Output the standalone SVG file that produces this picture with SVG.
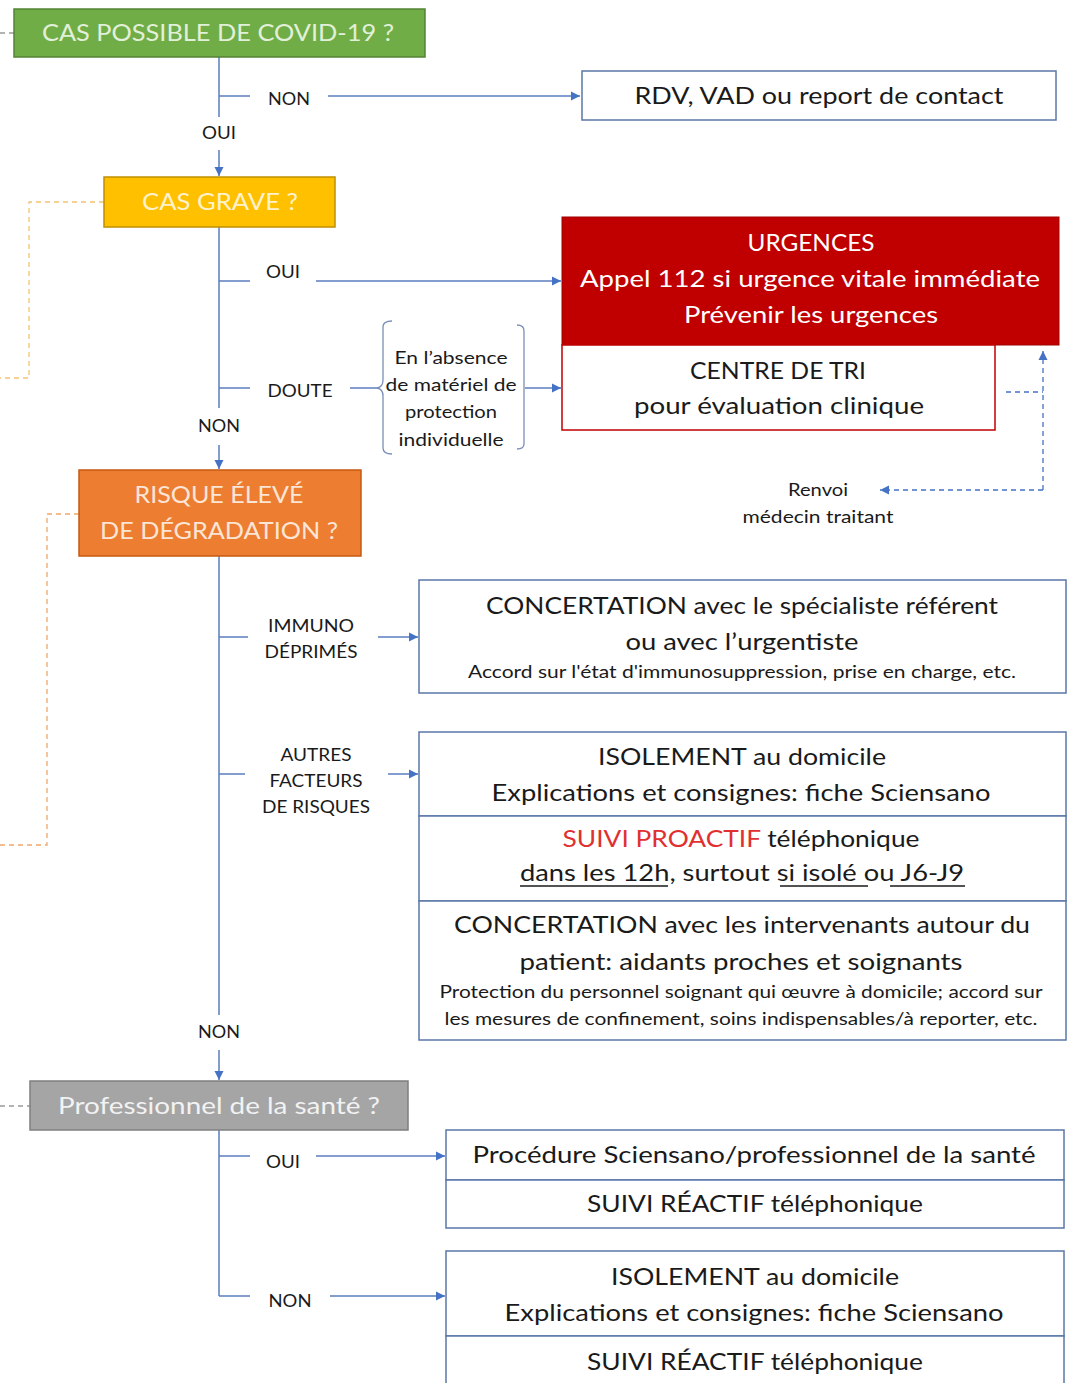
<svg xmlns="http://www.w3.org/2000/svg" width="1068" height="1383" viewBox="0 0 1068 1383">
<defs>
<marker id="arr" markerUnits="userSpaceOnUse" markerWidth="10" markerHeight="10" refX="9" refY="5" orient="auto">
<path d="M0,0.5 L9,5 L0,9.5 Z" fill="#4472c4"/>
</marker>
<style>
text{font-family:Lato,"Open Sans","Liberation Sans",sans-serif;text-anchor:middle;fill:#1a1a1a}
.t23{font-size:23px}
.t18{font-size:18px}
.t17{font-size:17px}
.box{fill:#ffffff;stroke:#5a77a8;stroke-width:1.5}
.con{fill:none;stroke:#5b7dbf;stroke-width:1.5}
.dash{fill:none;stroke-width:1.3;stroke-dasharray:5,4}
.ul{stroke:#1a1a1a;stroke-width:1.3}
</style>
</defs>
<rect width="1068" height="1383" fill="#ffffff"/>

<g id="connectors">
<path class="con" d="M219,57 V117"/>
<path class="con" d="M219,150 V176" marker-end="url(#arr)"/>
<path class="con" d="M219,96 H250"/>
<path class="con" d="M328,96 H580" marker-end="url(#arr)"/>
<path class="con" d="M219,227 V408"/>
<path class="con" d="M219,281 H250"/>
<path class="con" d="M316,281 H561" marker-end="url(#arr)"/>
<path class="con" d="M219,388 H250"/>
<path class="con" d="M350,388 H378"/>
<path class="con" d="M525,388 H561" marker-end="url(#arr)"/>
<path class="con" d="M219,445 V469" marker-end="url(#arr)"/>
<path class="con" d="M219,556 V1015"/>
<path class="con" d="M219,637 H248"/>
<path class="con" d="M378,637 H418" marker-end="url(#arr)"/>
<path class="con" d="M219,774 H245"/>
<path class="con" d="M388,774 H418" marker-end="url(#arr)"/>
<path class="con" d="M219,1050 V1080" marker-end="url(#arr)"/>
<path class="con" d="M219,1130 V1296"/>
<path class="con" d="M219,1156 H250"/>
<path class="con" d="M316,1156 H445" marker-end="url(#arr)"/>
<path class="con" d="M219,1296 H250"/>
<path class="con" d="M330,1296 H445" marker-end="url(#arr)"/>
<path class="dash" stroke="#9a9a9a" d="M0,33 H14"/>
<path class="dash" stroke="#f2c46d" d="M104,202 H29 V378 H0"/>
<path class="dash" stroke="#f0a76a" d="M79,514 H47 V845 H0"/>
<path class="dash" stroke="#9a9a9a" d="M0,1106 H30"/>
<path class="dash" stroke="#4472c4" d="M1006,392 H1043"/>
<path class="dash" stroke="#4472c4" d="M1043,490 V351" marker-end="url(#arr)"/>
<path class="dash" stroke="#4472c4" d="M1043,490 H880" marker-end="url(#arr)"/>
</g>

<g id="labels">
<text class="t18" x="289" y="105" textLength="42" lengthAdjust="spacingAndGlyphs">NON</text>
<text class="t18" x="219" y="139" textLength="34" lengthAdjust="spacingAndGlyphs">OUI</text>
<text class="t18" x="283" y="278" textLength="34" lengthAdjust="spacingAndGlyphs">OUI</text>
<text class="t18" x="300" y="397" textLength="65" lengthAdjust="spacingAndGlyphs">DOUTE</text>
<text class="t18" x="219" y="432" textLength="42" lengthAdjust="spacingAndGlyphs">NON</text>
<text class="t18" x="311" y="632" textLength="86" lengthAdjust="spacingAndGlyphs">IMMUNO</text>
<text class="t18" x="311" y="658" textLength="93" lengthAdjust="spacingAndGlyphs">DÉPRIMÉS</text>
<text class="t18" x="316" y="761" textLength="71" lengthAdjust="spacingAndGlyphs">AUTRES</text>
<text class="t18" x="316" y="787" textLength="93" lengthAdjust="spacingAndGlyphs">FACTEURS</text>
<text class="t18" x="316" y="813" textLength="108" lengthAdjust="spacingAndGlyphs">DE RISQUES</text>
<text class="t18" x="219" y="1038" textLength="42" lengthAdjust="spacingAndGlyphs">NON</text>
<text class="t18" x="283" y="1168" textLength="34" lengthAdjust="spacingAndGlyphs">OUI</text>
<text class="t18" x="290" y="1307" textLength="43" lengthAdjust="spacingAndGlyphs">NON</text>
<text class="t17" x="818" y="496" textLength="60" lengthAdjust="spacingAndGlyphs">Renvoi</text>
<text class="t17" x="818" y="523" textLength="151" lengthAdjust="spacingAndGlyphs">médecin traitant</text>
</g>

<g id="n-covid">
<rect x="14" y="9" width="411" height="48" fill="#70ad47" stroke="#548235" stroke-width="1.5"/>
<text class="t23" x="218" y="41" fill="#e2f0d9" style="fill:#e2f0d9" textLength="352" lengthAdjust="spacingAndGlyphs">CAS POSSIBLE DE COVID-19 ?</text>
</g>

<g id="n-rdv">
<rect class="box" x="582" y="71" width="474" height="49"/>
<text class="t23" x="819" y="104" textLength="369" lengthAdjust="spacingAndGlyphs">RDV, VAD ou report de contact</text>
</g>

<g id="n-grave">
<rect x="104" y="177" width="231" height="50" fill="#ffc000" stroke="#bf9000" stroke-width="1.5"/>
<text class="t23" x="220" y="210" style="fill:#fff2cc" textLength="156" lengthAdjust="spacingAndGlyphs">CAS GRAVE ?</text>
</g>

<g id="n-urgences">
<rect x="562" y="217" width="497" height="128" fill="#c00000" stroke="#a00000" stroke-width="1"/>
<text class="t23" x="811" y="251" style="fill:#ffffff" textLength="127" lengthAdjust="spacingAndGlyphs">URGENCES</text>
<text class="t23" x="810" y="287" style="fill:#ffffff;font-size:24px" textLength="460" lengthAdjust="spacingAndGlyphs">Appel 112 si urgence vitale immédiate</text>
<text class="t23" x="811" y="323" style="fill:#ffffff" textLength="254" lengthAdjust="spacingAndGlyphs">Prévenir les urgences</text>
</g>

<g id="n-tri">
<rect x="562" y="345" width="433" height="85" fill="#ffffff" stroke="#c00000" stroke-width="1.5"/>
<text class="t23" x="778" y="379" textLength="176" lengthAdjust="spacingAndGlyphs">CENTRE DE TRI</text>
<text class="t23" x="779" y="414" textLength="290" lengthAdjust="spacingAndGlyphs">pour évaluation clinique</text>
</g>

<g id="n-absence">
<path d="M392,321 Q383,321 383,327 V380 Q383,387 377,388 Q383,389 383,396 V448 Q383,454 392,454" fill="none" stroke="#7a8fb5" stroke-width="1.3"/>
<path d="M517,325 Q524,325 524,331 V444 Q524,449 517,449" fill="none" stroke="#7a8fb5" stroke-width="1.3"/>
<text class="t18" x="451" y="364" textLength="113" lengthAdjust="spacingAndGlyphs">En l’absence</text>
<text class="t18" x="451" y="391" textLength="131" lengthAdjust="spacingAndGlyphs">de matériel de</text>
<text class="t18" x="451" y="418" textLength="92" lengthAdjust="spacingAndGlyphs">protection</text>
<text class="t18" x="451" y="446" textLength="105" lengthAdjust="spacingAndGlyphs">individuelle</text>
</g>

<g id="n-risque">
<rect x="79" y="470" width="282" height="86" fill="#ed7d31" stroke="#c55a11" stroke-width="1.5"/>
<text class="t23" x="219" y="503" style="fill:#fbe5d6" textLength="169" lengthAdjust="spacingAndGlyphs">RISQUE  ÉLEVÉ</text>
<text class="t23" x="219" y="539" style="fill:#fbe5d6" textLength="238" lengthAdjust="spacingAndGlyphs">DE DÉGRADATION  ?</text>
</g>

<g id="n-concertation1">
<rect class="box" x="419" y="580" width="647" height="113"/>
<text class="t23" x="742" y="614" textLength="512" lengthAdjust="spacingAndGlyphs">CONCERTATION  avec le spécialiste référent</text>
<text class="t23" x="742" y="650" textLength="233" lengthAdjust="spacingAndGlyphs">ou avec l’urgentiste</text>
<text class="t17" x="742" y="678" textLength="548" lengthAdjust="spacingAndGlyphs">Accord sur l'état d'immunosuppression,  prise en charge, etc.</text>
</g>

<g id="n-isolement1">
<rect class="box" x="419" y="732" width="647" height="84"/>
<text class="t23" x="742" y="765" textLength="288" lengthAdjust="spacingAndGlyphs">ISOLEMENT au domicile</text>
<text class="t23" x="741" y="801" textLength="499" lengthAdjust="spacingAndGlyphs">Explications et consignes: fiche Sciensano</text>
</g>

<g id="n-suivi-proactif">
<rect class="box" x="419" y="816" width="647" height="85"/>
<text class="t23" x="741" y="847" textLength="357" lengthAdjust="spacingAndGlyphs"><tspan style="fill:#e03030">SUIVI PROACTIF</tspan> téléphonique</text>
<text class="t23" x="742" y="881" textLength="444" lengthAdjust="spacingAndGlyphs">dans les 12h, surtout  si isolé ou J6-J9</text>
<line class="ul" x1="520" y1="886" x2="668" y2="886"/>
<line class="ul" x1="780" y1="886" x2="868" y2="886"/>
<line class="ul" x1="890" y1="886" x2="965" y2="886"/>
</g>

<g id="n-concertation2">
<rect class="box" x="419" y="901" width="647" height="139"/>
<text class="t23" x="742" y="933" textLength="576" lengthAdjust="spacingAndGlyphs">CONCERTATION  avec les intervenants  autour du</text>
<text class="t23" x="741" y="970" textLength="443" lengthAdjust="spacingAndGlyphs">patient: aidants proches et soignants</text>
<text class="t17" x="741" y="998" textLength="603" lengthAdjust="spacingAndGlyphs">Protection  du personnel soignant qui œuvre à domicile; accord sur</text>
<text class="t17" x="741" y="1025" textLength="593" lengthAdjust="spacingAndGlyphs">les mesures de confinement,  soins indispensables/à reporter, etc.</text>
</g>

<g id="n-pro">
<rect x="30" y="1081" width="378" height="49" fill="#a5a5a5" stroke="#7f7f7f" stroke-width="1.5"/>
<text class="t23" x="219" y="1114" style="fill:#f2f2f2" textLength="322" lengthAdjust="spacingAndGlyphs">Professionnel  de la santé ?</text>
</g>

<g id="n-procedure">
<rect class="box" x="446" y="1130" width="618" height="50"/>
<text class="t23" x="754" y="1163" textLength="563" lengthAdjust="spacingAndGlyphs">Procédure Sciensano/professionnel  de la santé</text>
</g>

<g id="n-suivi-reactif1">
<rect class="box" x="446" y="1180" width="618" height="48"/>
<text class="t23" x="755" y="1212" textLength="336" lengthAdjust="spacingAndGlyphs">SUIVI RÉACTIF téléphonique</text>
</g>

<g id="n-isolement2">
<rect class="box" x="446" y="1251" width="618" height="85"/>
<text class="t23" x="755" y="1285" textLength="288" lengthAdjust="spacingAndGlyphs">ISOLEMENT au domicile</text>
<text class="t23" x="754" y="1321" textLength="499" lengthAdjust="spacingAndGlyphs">Explications et consignes: fiche Sciensano</text>
</g>

<g id="n-suivi-reactif2">
<rect class="box" x="446" y="1336" width="618" height="60"/>
<text class="t23" x="755" y="1370" textLength="336" lengthAdjust="spacingAndGlyphs">SUIVI RÉACTIF téléphonique</text>
</g>
</svg>
